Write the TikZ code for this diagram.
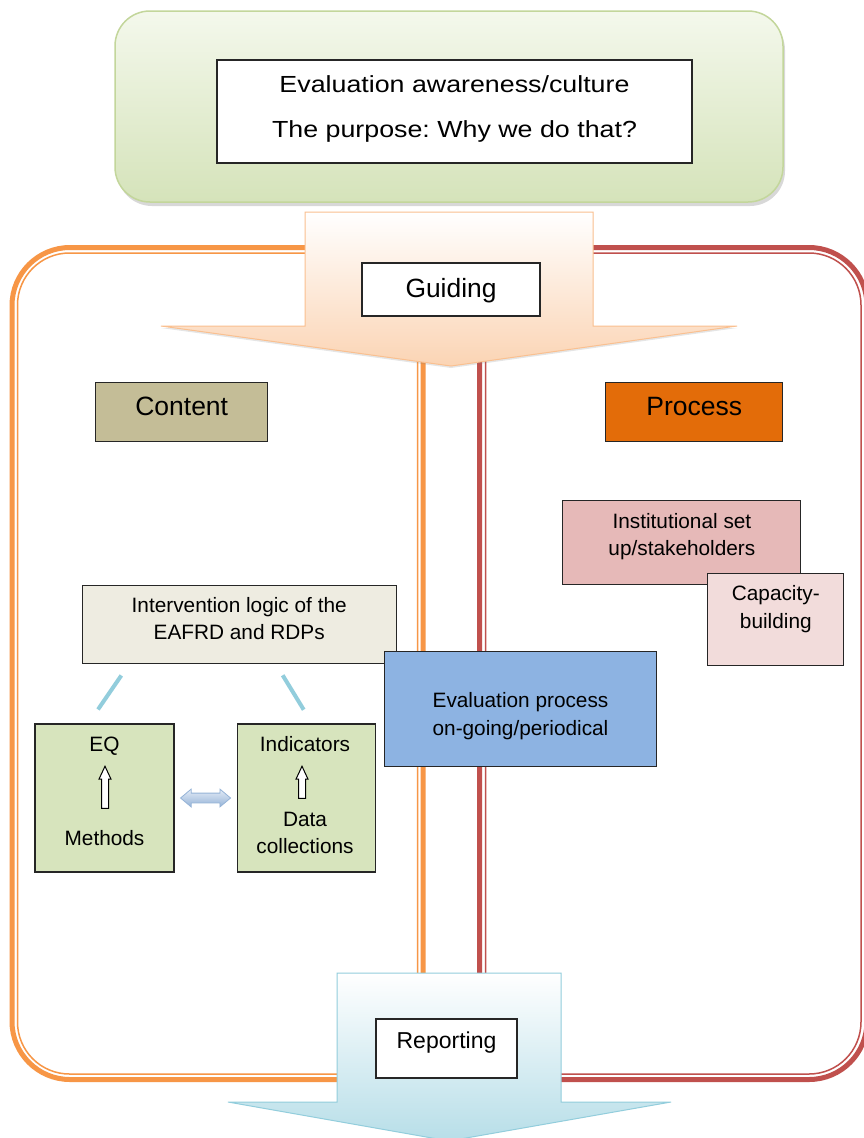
\documentclass[tikz,border=0pt]{standalone}
\usepackage{fontspec}
\setmainfont{Liberation Sans}
\newfontfamily\widefont[FakeStretch=1.15]{Liberation Sans}
\usetikzlibrary{positioning,calc,shapes.arrows,shadows}

\definecolor{frameorange}{HTML}{F79646}
\definecolor{framered}{HTML}{C0504D}
\definecolor{greentop}{HTML}{F4F8EC}
\definecolor{greenbottom}{HTML}{D5E3BA}
\definecolor{greenborder}{HTML}{C3D69B}
\definecolor{peach}{HTML}{FBD4B4}
\definecolor{peachborder}{HTML}{FAC090}
\definecolor{aqua}{HTML}{B7DEE8}
\definecolor{aquaborder}{HTML}{92CDDC}
\definecolor{contentfill}{HTML}{C4BD97}
\definecolor{processfill}{HTML}{E36C09}
\definecolor{instfill}{HTML}{E6B9B8}
\definecolor{capfill}{HTML}{F2DCDB}
\definecolor{intervfill}{HTML}{EEECE1}
\definecolor{evalfill}{HTML}{8DB3E2}
\definecolor{eqfill}{HTML}{D7E4BD}
\definecolor{swaplight}{HTML}{E4ECF7}
\definecolor{swapblue}{HTML}{95B3D7}

\begin{document}
\begin{tikzpicture}[x=1pt, y=-1pt,
    box/.style={draw=black!85, line width=1.1pt, inner sep=0pt},
    smalltext/.style={font=\fontsize{20.8}{27.5}\selectfont, align=center, inner sep=0pt},
    bigtext/.style={font=\widefont\fontsize{23.3}{44.6}\selectfont\frenchspacing, align=center, inner sep=0pt},
    framethick/.style={line width=5pt, rounded corners=58pt},
    framethin/.style={line width=1.5pt, rounded corners=52pt},
    link/.style={draw=aquaborder, line width=4pt},
    uparrow/.style={single arrow, draw=black, line width=1pt, fill=white, rotate=90, inner xsep=0pt, inner ysep=3pt, single arrow head extend=2.5pt, single arrow tip angle=50},
    swaparrow/.style={double arrow, draw=swapblue, line width=0.8pt, top color=swaplight, bottom color=swapblue, inner xsep=0pt, inner ysep=4.5pt, double arrow head extend=4pt, double arrow tip angle=80},
]
    \useasboundingbox (0,0) rectangle (864,1138);
    \fill[white] (0,0) rectangle (864,1138);
    % frames
    \draw[framethick, frameorange] (12,247.5)  rectangle (423,1079.5);
    \draw[framethin,  frameorange] (17.5,253)  rectangle (417.5,1074);
    \draw[framethick, framered]    (479.5,247.5) rectangle (867,1079.5);
    \draw[framethin,  framered]    (485.5,253) rectangle (861,1074);
    % top
    \node[draw=greenborder, line width=1.5pt, rounded corners=35pt, top color=greentop, bottom color=greenbottom,
          drop shadow={shadow xshift=2pt, shadow yshift=-4pt, opacity=0.3},
          minimum width=668pt, minimum height=191pt] (aware) at (449,106.5) {};
    \node[box, fill=white, minimum width=475pt, minimum height=103pt] (purpose)   at (454.5,111.5) {};
    \node[bigtext]                                                   (purpose-t) at (454.5,109)
        {Evaluation awareness/culture\\The purpose: Why we do that?};
    % guiding arrow
    \shade[top color=white, bottom color=peach, draw=peachborder, line width=1pt,
           drop shadow={shadow xshift=0pt, shadow yshift=-2pt, opacity=0.2}]
        (305,212) -- (593,212) -- (593,326) -- (737,326) -- (451,366) -- (161,326) -- (305,326) -- cycle;
    \node[box, fill=white, minimum width=178pt, minimum height=53pt, font=\fontsize{26.4}{30}\selectfont,
          text height=20pt, text depth=5pt] (guiding) at (451,289.5) {Guiding};
    % content and process
    \node[box, fill=contentfill, minimum width=172pt, minimum height=59pt, font=\fontsize{26.5}{30}\selectfont,
          text height=14pt, text depth=8pt] (content) at (181.7,412) {Content};
    \node[box, fill=processfill, minimum width=177pt, minimum height=59pt, font=\fontsize{26.5}{30}\selectfont,
          text height=14pt, text depth=8pt] (process) [right=337pt of content] {Process};
    % process side
    \node[box, fill=instfill, minimum width=238pt, minimum height=84pt]  (inst)   at (681.9,542.8) {};
    \node[smalltext]                                                     (inst-t) at (681.9,536.8) {Institutional set\\up/stakeholders};
    \node[box, fill=capfill, minimum width=136pt, minimum height=92pt]   (cap)    at (775.8,619.2) {};
    \node[smalltext]                                                     (cap-t)  at (775.8,609.1) {Capacity-\\building};
    % content side
    \node[box, fill=intervfill, minimum width=314pt, minimum height=78pt] (interv)   at (239.2,624.2) {};
    \node[smalltext, font=\fontsize{20.8}{26.5}\selectfont]              (interv-t) at (239.2,618.4) {Intervention logic of the\\EAFRD and RDPs};
    \node[box, fill=evalfill, minimum width=272pt, minimum height=115pt] (eval)   at (520.5,709.4) {};
    \node[smalltext]                                                     (eval-t) at (520.5,716) {Evaluation process\\on-going/periodical};
    \node[box, fill=eqfill, minimum width=139pt, minimum height=148pt]   (eq)     at (104.5,798) {};
    \node[box, fill=eqfill, minimum width=138pt, minimum height=148pt]   (ind)    [right=62pt of eq] {};
    \node[smalltext, anchor=base] (eq-t)   at (104.5,751.7) {EQ};
    \node[smalltext, anchor=base] (meth-t) at (104.5,845.7) {Methods};
    \node[smalltext, anchor=base] (ind-t)  at (305,751.7)   {Indicators};
    \node[smalltext]              (data-t) at (305,832.9)   {Data\\collections};
    \node[uparrow, minimum height=42pt] (eq-up)  at (105,791) {};
    \node[uparrow, minimum height=32pt] (ind-up) at (302,786) {};
    \node[swaparrow, minimum height=50pt] (swap) at ($(eq.east)!0.5!(ind.west)$) {};
    % lines
    \draw[link, shorten <=14.2pt, shorten >=17pt]   ([xshift=47.7pt]interv.south west) -- ([xshift=-16.1pt]eq.north);
    \draw[link, shorten <=13.5pt, shorten >=16.1pt] ([xshift=194pt]interv.south west)  -- ([xshift=6pt]ind.north);
    % reporting arrow
    \shade[top color=white, bottom color=aqua, draw=aquaborder, line width=1pt]
        (337,973) -- (561,973) -- (561,1102) -- (671,1102) -- (449,1141) -- (228,1102) -- (337,1102) -- cycle;
    \node[box, fill=white, minimum width=141pt, minimum height=59pt, font=\fontsize{23}{28}\selectfont,
          text height=10pt, text depth=10pt] (reporting) at (446.5,1048.5) {Reporting};
\end{tikzpicture}
\end{document}
